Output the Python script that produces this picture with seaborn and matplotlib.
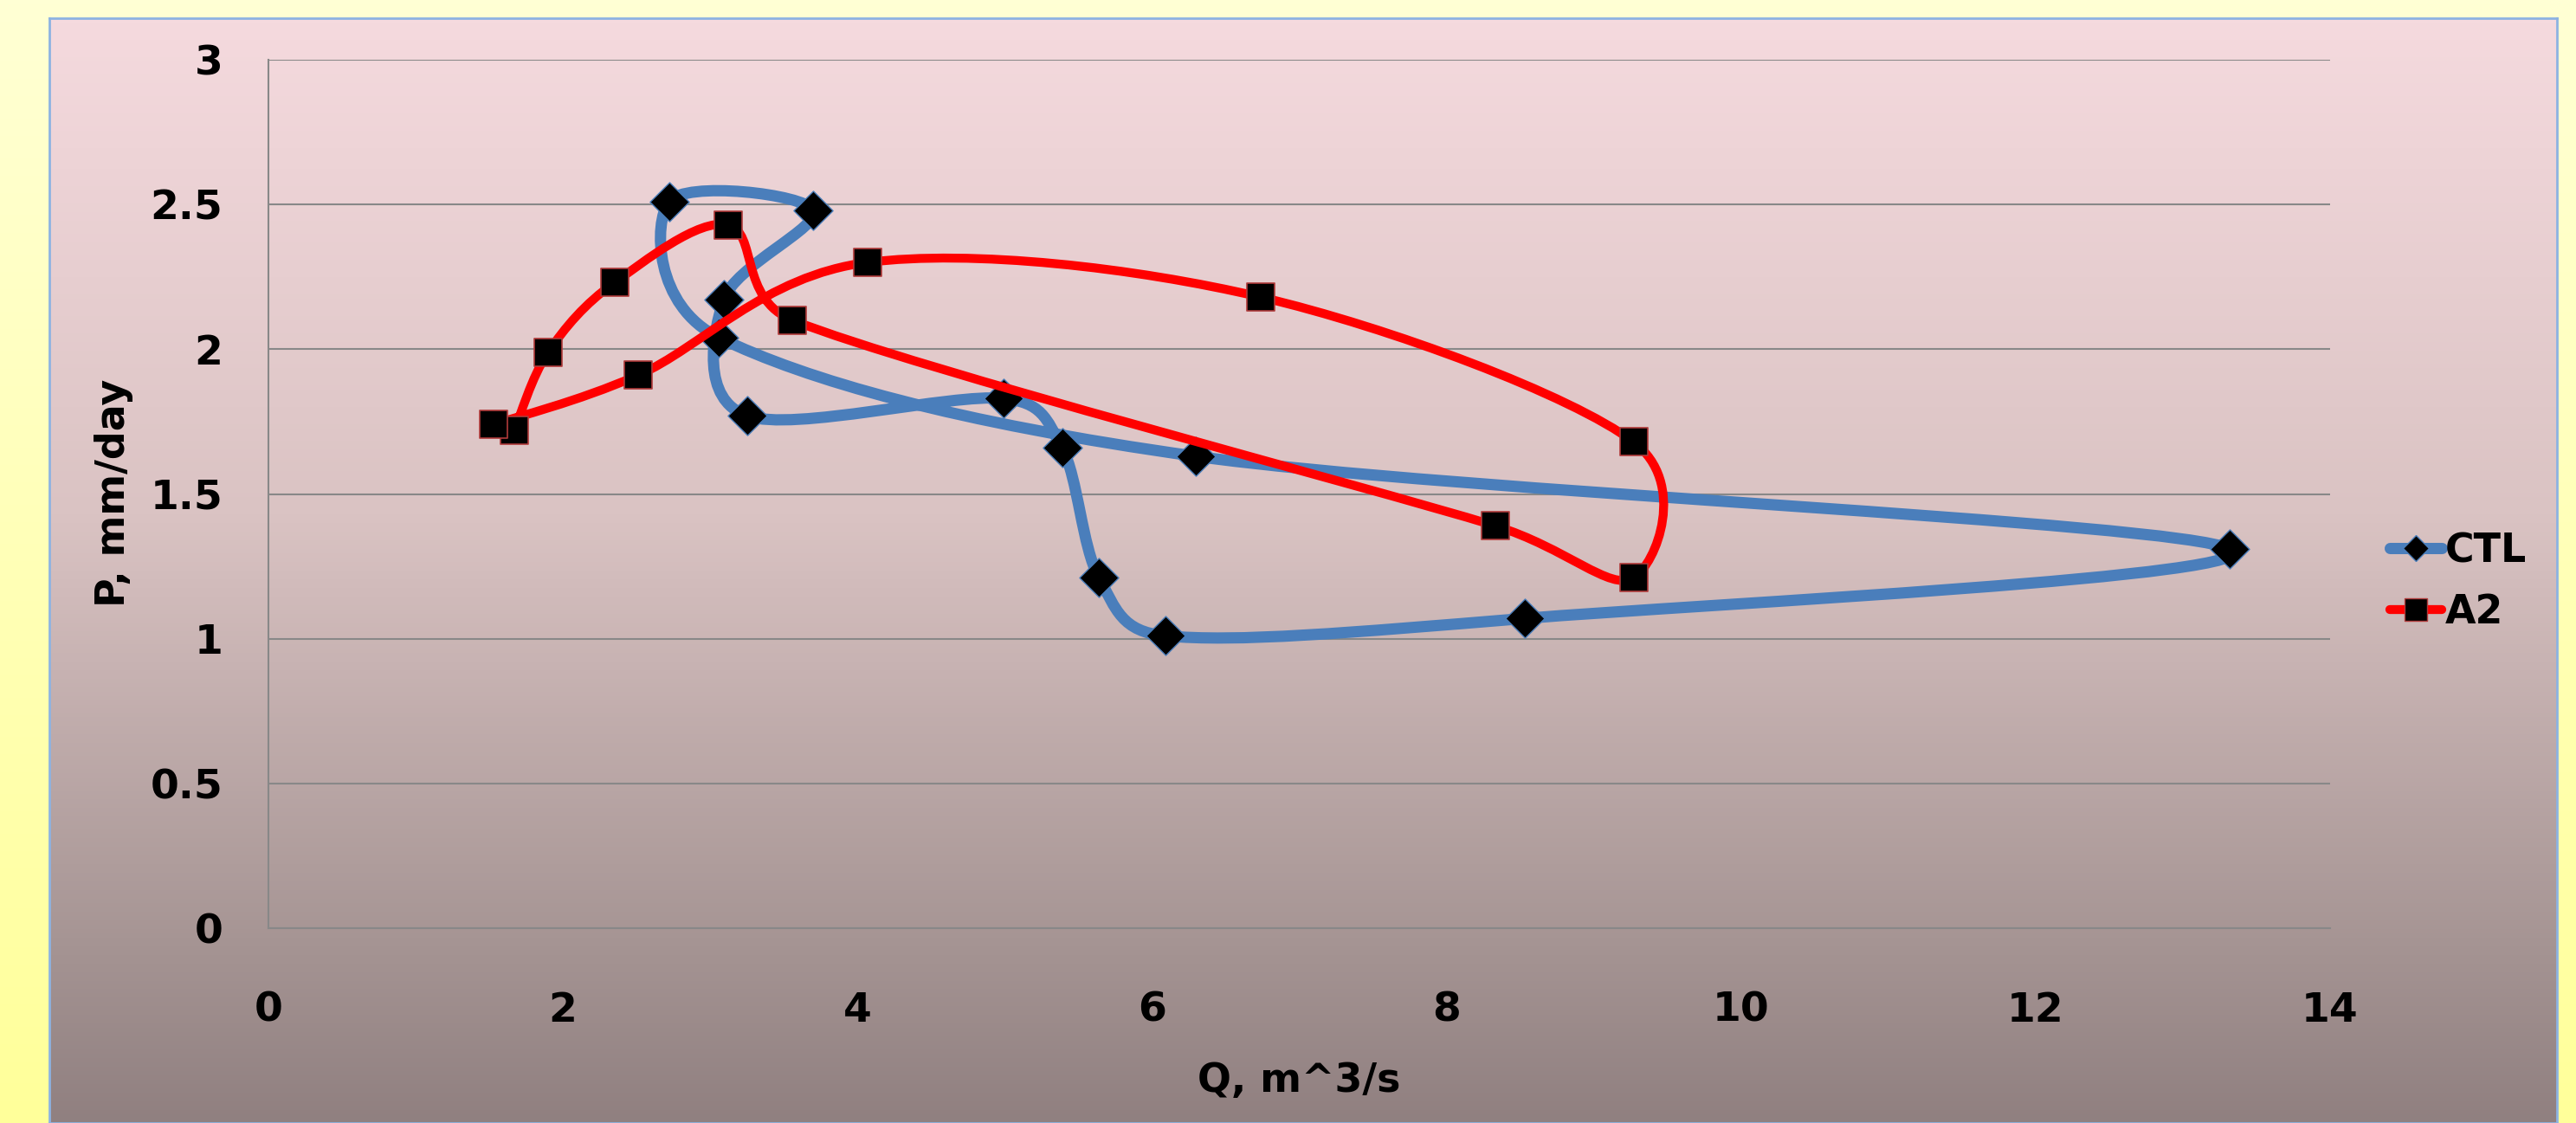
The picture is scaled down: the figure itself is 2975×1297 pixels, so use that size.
import numpy as np
import matplotlib
matplotlib.use("Agg")
import matplotlib.pyplot as plt
import seaborn as sns
from matplotlib.path import Path
from matplotlib.patches import PathPatch
from matplotlib.lines import Line2D
from matplotlib.colors import LinearSegmentedColormap

# data, in the order the curves join them
ctl_q = [3.06, 2.72, 3.70, 3.09, 3.25, 4.99, 5.39, 5.64, 6.09, 8.53, 13.32, 6.30]
ctl_p = [2.04, 2.51, 2.48, 2.17, 1.77, 1.83, 1.66, 1.21, 1.01, 1.07, 1.31, 1.63]
a2_q = [1.67, 1.90, 2.35, 3.12, 3.56, 8.33, 9.27, 9.27, 6.74, 4.07, 2.51, 1.53]
a2_p = [1.72, 1.99, 2.23, 2.43, 2.10, 1.39, 1.21, 1.68, 2.18, 2.30, 1.91, 1.74]

x_ticks = [0, 2, 4, 6, 8, 10, 12, 14]
y_ticks = [0, 0.5, 1, 1.5, 2, 2.5, 3]
y_tick_labels = ["0", "0.5", "1", "1.5", "2", "2.5", "3"]

blue = "#4a7ebb"
red = "#ff0000"
grid_col = "#888888"

sns.set_style("white")
plt.rcParams["font.family"] = ["DejaVu Sans"]
plt.rcParams["font.weight"] = "bold"
plt.rcParams["text.color"] = "black"

W, H = 2975, 1297
fig = plt.figure(figsize=(W / 100, H / 100), dpi=100)

# yellow page background
bg = fig.add_axes([0, 0, 1, 1], zorder=-3)
bg_cmap = LinearSegmentedColormap.from_list("yel", ["#ffffd4", "#ffff9a"])
bg.imshow(np.linspace(0, 1, 256).reshape(-1, 1), aspect="auto", cmap=bg_cmap,
          extent=[0, 1, 0, 1], origin="upper")
bg.axis("off")

# chart area with pink -> grey-brown gradient
ca = fig.add_axes([57 / W, 0, (2953 - 57) / W, 1 - 21 / H], zorder=-2)
ca_cmap = LinearSegmentedColormap.from_list(
    "chart", [(0, "#f5dade"), (0.45, "#dac3c3"), (0.85, "#a49392"), (1, "#908080")])
ca.imshow(np.linspace(0, 1, 256).reshape(-1, 1), aspect="auto", cmap=ca_cmap,
          extent=[0, 1, 0, 1], origin="upper")
ca.set_xticks([])
ca.set_yticks([])
for s in ca.spines.values():
    s.set_color("#8db3e2")
    s.set_linewidth(2)

ax = fig.add_axes([310 / W, 1 - 1072 / H, (2691 - 310) / W, (1072 - 69) / H])
ax.set_facecolor("none")
ax.set_xlim(0, 14)
ax.set_ylim(0, 3)
ax.set_xticks(x_ticks)
ax.set_xticklabels([str(t) for t in x_ticks])
ax.set_yticks(y_ticks)
ax.set_yticklabels(y_tick_labels)
ax.grid(False)
ax.yaxis.grid(True, color=grid_col, lw=1.5, zorder=0)
ax.set_axisbelow(True)
for side in ["top", "right"]:
    ax.spines[side].set_visible(False)
for side in ["left", "bottom"]:
    ax.spines[side].set_color(grid_col)
    ax.spines[side].set_linewidth(1.5)
ax.tick_params(axis="x", direction="out", length=12.5, width=1.5, color=grid_col,
               pad=40, labelsize=34, labelcolor="black")
ax.tick_params(axis="y", direction="out", length=13, width=1.5, color=grid_col,
               pad=25, labelsize=34, labelcolor="black")
for lab in ax.get_xticklabels() + ax.get_yticklabels():
    lab.set_fontweight("bold")

fig.text(1500 / W, 1 - 1249 / H, "Q, m^3/s", ha="center", va="center",
         fontsize=33, fontweight="bold", color="black")
fig.text(131 / W, 1 - 569 / H, "P, mm/day", ha="center", va="center",
         rotation=90, fontsize=33, fontweight="bold", color="black")


def smooth_curve(xs, ys, closed=False):
    # Excel-like smoothed line: Catmull-Rom bezier, arms clamped to half a segment
    pts = ax.transData.transform(np.column_stack([xs, ys]))
    if closed:
        pts = np.vstack([pts, pts[:1]])
    m = len(pts)
    verts = [pts[0]]
    codes = [Path.MOVETO]
    for i in range(m - 1):
        p1, p2 = pts[i], pts[i + 1]
        if closed:
            p0 = pts[i - 1] if i > 0 else pts[-2]
            p3 = pts[i + 2] if i + 2 < m else pts[1]
        else:
            p0 = pts[i - 1] if i > 0 else p1
            p3 = pts[i + 2] if i + 2 < m else p2
        seg = np.hypot(*(p2 - p1))
        t1 = (p2 - p0) / 6
        t2 = (p3 - p1) / 6
        for t in (t1, t2):
            L = np.hypot(*t)
            if L > seg / 2 and L > 0:
                t *= (seg / 2) / L
        verts += [p1 + t1, p2 - t2, p2]
        codes += [Path.CURVE4] * 3
    verts = ax.transData.inverted().transform(np.array(verts))
    return Path(verts, codes)


ax.add_patch(PathPatch(smooth_curve(ctl_q, ctl_p, closed=True), facecolor="none",
                       edgecolor=blue, lw=9.4, capstyle="round", joinstyle="round",
                       zorder=3))
sns.scatterplot(x=ctl_q, y=ctl_p, marker="D", s=23 ** 2, color="black",
                edgecolor=blue, linewidth=1, ax=ax, zorder=4, legend=False)

ax.add_patch(PathPatch(smooth_curve(a2_q, a2_p), facecolor="none",
                       edgecolor=red, lw=7.4, capstyle="round", joinstyle="round",
                       zorder=5))
sns.scatterplot(x=a2_q, y=a2_p, marker="s", s=22.5 ** 2, color="black",
                edgecolor="#b03a3a", linewidth=1.2, ax=ax, zorder=6, legend=False)

handles = [
    Line2D([], [], color=blue, lw=9.4, marker="D", ms=15, mfc="black", mec=blue,
           solid_capstyle="round"),
    Line2D([], [], color=red, lw=7.4, marker="s", ms=19, mfc="black", mec="#b03a3a",
           solid_capstyle="round"),
]
ax.legend(handles, ["CTL", "A2"], loc="center left", bbox_to_anchor=(2760 / W, 1 - 672 / H),
          bbox_transform=fig.transFigure, frameon=False, borderpad=0, borderaxespad=0,
          handlelength=1.3, handletextpad=0.1, labelspacing=0.55,
          prop={"size": 33, "weight": "bold"})

fig.savefig("out.png", dpi=100)
